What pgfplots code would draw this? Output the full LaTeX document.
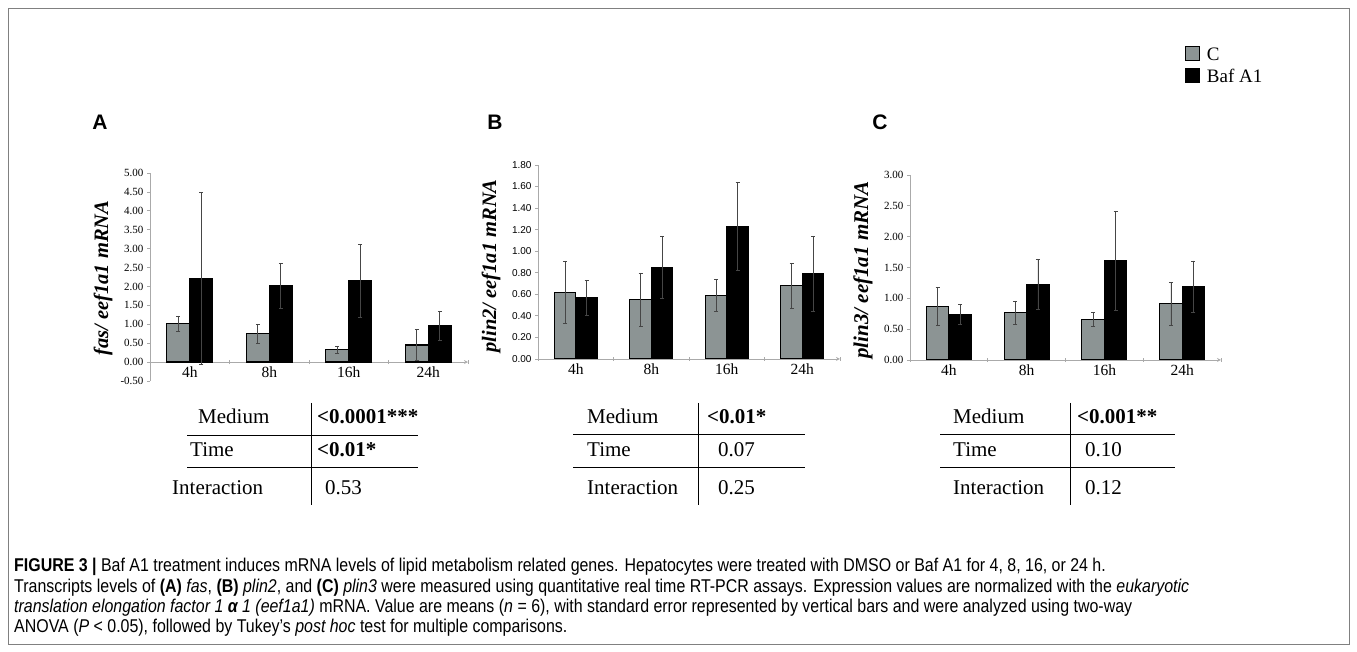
\documentclass[border=0pt]{standalone}
\usepackage{fontspec}
\setmainfont{Liberation Serif}
\newfontfamily\capfont[FakeStretch=0.862]{Liberation Sans}
\newfontfamily\sansfont{Liberation Sans}
\usepackage{pgfplots}
\pgfplotsset{compat=1.18}

\definecolor{barC}{RGB}{140,148,148}
\definecolor{axgray}{RGB}{170,170,170}
\definecolor{errgray}{RGB}{70,70,70}

\pgfplotsset{
  panel/.style={
    scale only axis, anchor=south west,
    axis y line=left,
    axis line style={draw=axgray, line width=0.8pt, -},
    xmin=0.5, xmax=4.5,
    xtick={1,2,3,4}, xticklabels={4h,8h,16h,24h},
    minor xtick={0.5,1.5,2.5,3.5,4.5},
    tick align=outside,
    major tick length=3pt, minor tick length=4pt,
    major x tick style={draw=none},
    minor x tick style={draw=axgray, line width=0.8pt},
    ytick style={draw=axgray, line width=0.8pt},
    hide obscured x ticks=false, hide obscured y ticks=false,
    xticklabel style={font=\fontsize{15.5}{15.5}\selectfont},
    yticklabel style={font=\fontsize{11}{11}\selectfont},
    /pgf/number format/.cd, fixed, fixed zerofill, precision=2, assume math mode=true,
    /pgfplots/.cd,
    ybar=0pt,
    error bars/y dir=both, error bars/y explicit,
    error bars/error bar style={errgray, line width=0.7pt},
    error bars/error mark options={errgray, rotate=90, mark size=2pt},
  },
  cbar/.style={fill=barC, draw=black, line width=1.2pt},
  bbar/.style={fill=black, draw=black, line width=1.2pt},
}

\begin{document}
\begin{tikzpicture}[x=1pt, y=1pt]
\path (0,0) rectangle (1357,652);
\draw[gray, line width=0.8pt] (8,644) rectangle (1349,8);
\coordinate (posA) at (150,271);
\coordinate (posB) at (538,293);
\coordinate (posC) at (910,292);

% panel letters
\node[font=\sansfont\bfseries\fontsize{21}{21}\selectfont] at (100,530) {A};
\node[font=\sansfont\bfseries\fontsize{21}{21}\selectfont] at (495,530) {B};
\node[font=\sansfont\bfseries\fontsize{21}{21}\selectfont] at (880,530) {C};

% ---- A: fas
\begin{axis}[panel, at={(posA)}, width=318pt, height=208pt,
  axis x line=middle, ymin=-0.5, ymax=5,
  ytick={-0.5,0,0.5,1,1.5,2,2.5,3,3.5,4,4.5,5},
  bar width=23pt]
\addplot[cbar] coordinates {(1,1.02) +- (0,0.20) (2,0.75) +- (0,0.25) (3,0.33) +- (0,0.09) (4,0.45) +- (0,0.41)};
\addplot[bbar] coordinates {(1,2.21) +- (0,2.27) (2,2.02) +- (0,0.59) (3,2.15) +- (0,0.97) (4,0.96) +- (0,0.39)};
\end{axis}
\node[rotate=90, font=\bfseries\itshape\fontsize{20.5}{20.5}\selectfont] at (103,374) {fas/ eef1a1 mRNA};

% ---- B: plin2
\begin{axis}[panel, at={(posB)}, width=302pt, height=194pt,
  axis x line=bottom, ymin=0, ymax=1.8,
  ytick={0,0.2,0.4,0.6,0.8,1,1.2,1.4,1.6,1.8},
  yticklabel style={font=\sansfont\fontsize{10}{10}\selectfont},
  bar width=21.5pt]
\addplot[cbar] coordinates {(1,0.62) +- (0,0.29) (2,0.55) +- (0,0.25) (3,0.59) +- (0,0.15) (4,0.68) +- (0,0.21)};
\addplot[bbar] coordinates {(1,0.57) +- (0,0.16) (2,0.85) +- (0,0.29) (3,1.23) +- (0,0.41) (4,0.79) +- (0,0.35)};
\end{axis}
\node[rotate=90, font=\bfseries\itshape\fontsize{20.5}{20.5}\selectfont] at (491,386) {plin2/ eef1a1 mRNA};

% ---- C: plin3
\begin{axis}[panel, at={(posC)}, width=311pt, height=185pt,
  axis x line=bottom, ymin=0, ymax=3,
  ytick={0,0.5,1,1.5,2,2.5,3},
  bar width=22.5pt,
  legend style={at={(axis description cs:0.884,1.70)}, anchor=north west,
    draw=none, fill=none, inner sep=0pt, font=\fontsize{19}{19}\selectfont,
    row sep=3pt, /tikz/every odd column/.append style={column sep=5pt}},
  legend cell align=left,
  legend image code/.code={\draw[#1, line width=0.8pt] (0pt,-6pt) rectangle (14pt,8pt);}]
\addplot[cbar] coordinates {(1,0.87) +- (0,0.31) (2,0.77) +- (0,0.19) (3,0.66) +- (0,0.11) (4,0.91) +- (0,0.35)};
\addlegendentry{C}
\addplot[bbar] coordinates {(1,0.74) +- (0,0.16) (2,1.23) +- (0,0.41) (3,1.61) +- (0,0.80) (4,1.19) +- (0,0.42)};
\addlegendentry{Baf A1}
\end{axis}
\node[rotate=90, font=\bfseries\itshape\fontsize{21}{21}\selectfont] at (863,382) {plin3/ eef1a1 mRNA};

% ---- ANOVA tables
\begin{scope}[every node/.style={anchor=base west, inner sep=0pt, font=\fontsize{21}{21}\selectfont}]
  % A
  \draw[line width=1pt] (187,216) -- (418,216) (187,184) -- (418,184);
  \draw[line width=1pt] (311,249) -- (311,147);
  \node at (198,228) {Medium};  \node at (317,228) {\bfseries <0.0001***};
  \node at (190,195) {Time};    \node at (317,195) {\bfseries <0.01*};
  \node at (172,157) {Interaction}; \node at (325,157) {0.53};
  % B
  \draw[line width=1pt] (573,217) -- (805,217) (573,184) -- (805,184);
  \draw[line width=1pt] (698,249) -- (698,147);
  \node at (587,228) {Medium};  \node at (707,228) {\bfseries <0.01*};
  \node at (587,195) {Time};    \node at (718,195) {0.07};
  \node at (587,157) {Interaction}; \node at (718,157) {0.25};
  % C
  \draw[line width=1pt] (940,217) -- (1175,217) (940,184) -- (1175,184);
  \draw[line width=1pt] (1070,249) -- (1070,147);
  \node at (953,228) {Medium};  \node at (1077,228) {\bfseries <0.001**};
  \node at (953,195) {Time};    \node at (1085,195) {0.10};
  \node at (953,157) {Interaction}; \node at (1085,157) {0.12};
\end{scope}

% ---- caption
\begin{scope}[every node/.style={anchor=base west, inner sep=0pt, font=\capfont\fontsize{18.5}{18.5}\selectfont}]
  \node at (14,80) {\textbf{FIGURE 3 |} Baf A1 treatment induces mRNA levels of lipid metabolism related genes. Hepatocytes were treated with DMSO or Baf A1 for 4, 8, 16, or 24 h.};
  \node at (14,59) {Transcripts levels of \textbf{(A)} \textit{fas}, \textbf{(B)} \textit{plin2}, and \textbf{(C)} \textit{plin3} were measured using quantitative real time RT-PCR assays. Expression values are normalized with the \textit{eukaryotic}};
  \node at (14,39) {\textit{translation elongation factor 1 \textbf{α} 1 (eef1a1)} mRNA. Value are means (\textit{n} = 6), with standard error represented by vertical bars and were analyzed using two-way};
  \node at (14,19) {ANOVA (\textit{P} < 0.05), followed by Tukey’s \textit{post hoc} test for multiple comparisons.};
\end{scope}
\end{tikzpicture}
\end{document}
